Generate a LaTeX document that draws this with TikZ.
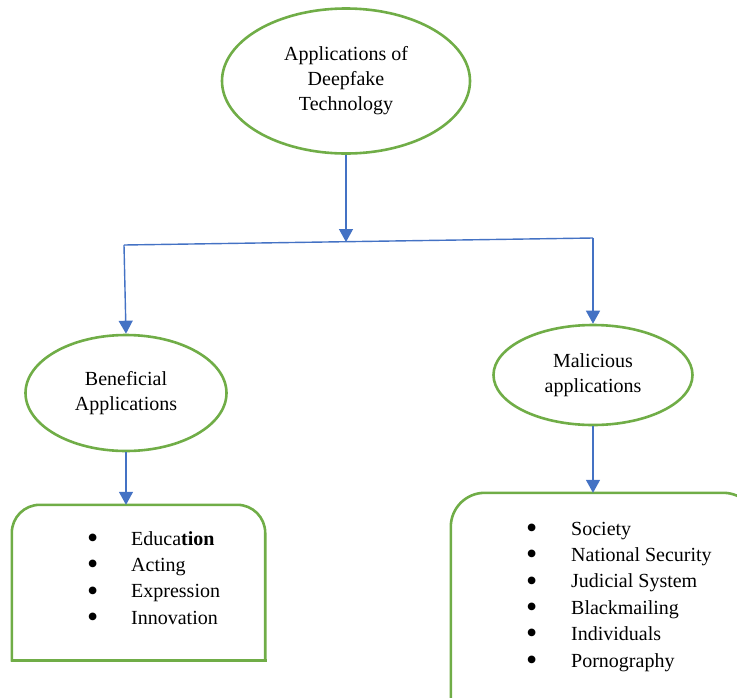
\documentclass[tikz,border=0pt]{standalone}
\usepackage{fontspec}
\setmainfont{Liberation Serif}
\usetikzlibrary{shapes.geometric,arrows.meta}
\definecolor{nodegreen}{HTML}{70AD47}
\definecolor{linkblue}{HTML}{4472C4}
\newcommand{\bigbul}{\raisebox{-3.2pt}[0pt][0pt]{\scalebox{1.6}{\textbullet}}}
\tikzset{
  bubble/.style={ellipse, draw=nodegreen, line width=2.6pt, inner sep=0pt, align=center,
    font=\fontsize{20}{25}\selectfont},
  listbox/.style={rectangle, inner sep=0pt},
  link/.style={draw=linkblue, line width=1.4pt},
  linkarrow/.style={link, -{Triangle[width=14pt,length=13pt]}},
  boxline/.style={draw=nodegreen, line width=2.6pt, line cap=rect},
  itemlist/.style={inner sep=0pt, anchor=base west, font=\fontsize{20}{26.4}\selectfont}
}
\begin{document}
\begin{tikzpicture}[x=1pt,y=-1pt]
\useasboundingbox (0,0) rectangle (737,697);
\clip (0,0) rectangle (737,697);
% nodes
\node[bubble, minimum width=248pt, minimum height=145pt] (top) at (346,81)
  {Applications of\\Deepfake\\Technology};
\node[bubble, minimum width=201pt, minimum height=116pt] (bene) at (126,393)
  {Beneficial\\Applications};
\node[bubble, minimum width=199pt, minimum height=100pt] (mal) at (593,375)
  {Malicious\\applications};
\node[listbox, minimum width=253pt, minimum height=155pt] (lbox) at (138.5,582.5) {};
\node[listbox, minimum width=306pt, minimum height=260pt] (rbox) at (604,623) {};
% boxes
\draw[boxline, rounded corners=28pt] (lbox.south west) -- (lbox.north west) -- (lbox.north east) -- (lbox.south east);
\draw[boxline] (lbox.south west) -- (lbox.south east);
\draw[boxline, rounded corners=34pt] (rbox.south west) -- (rbox.north west) -- (rbox.north east) -- (rbox.south east);
% lists
\node[itemlist] (llist) at (87,545) {\begin{tabular}[t]{@{}p{44pt}@{}l@{}}
\bigbul & Educa\textbf{tion}\\
\bigbul & Acting\\
\bigbul & Expression\\
\bigbul & Innovation
\end{tabular}};
\node[itemlist] (rlist) at (526,535) {\begin{tabular}[t]{@{}p{45pt}@{}l@{}}
\bigbul & Society\\
\bigbul & National Security\\
\bigbul & Judicial System\\
\bigbul & Blackmailing\\
\bigbul & Individuals\\
\bigbul & Pornography
\end{tabular}};
% connectors
\coordinate (mid) at (346,242);
\coordinate (lc) at (124,245);
\coordinate (rc) at (593,238);
\draw[linkarrow] (top.south) -- (mid);
\draw[link] (lc) -- (rc);
\draw[linkarrow] (lc) -- (bene.north);
\draw[linkarrow] (rc) -- (mal.north);
\draw[linkarrow] (bene.south) -- (bene.south |- lbox.north);
\draw[linkarrow] (mal.south) -- (mal.south |- rbox.north);
\end{tikzpicture}
\end{document}
